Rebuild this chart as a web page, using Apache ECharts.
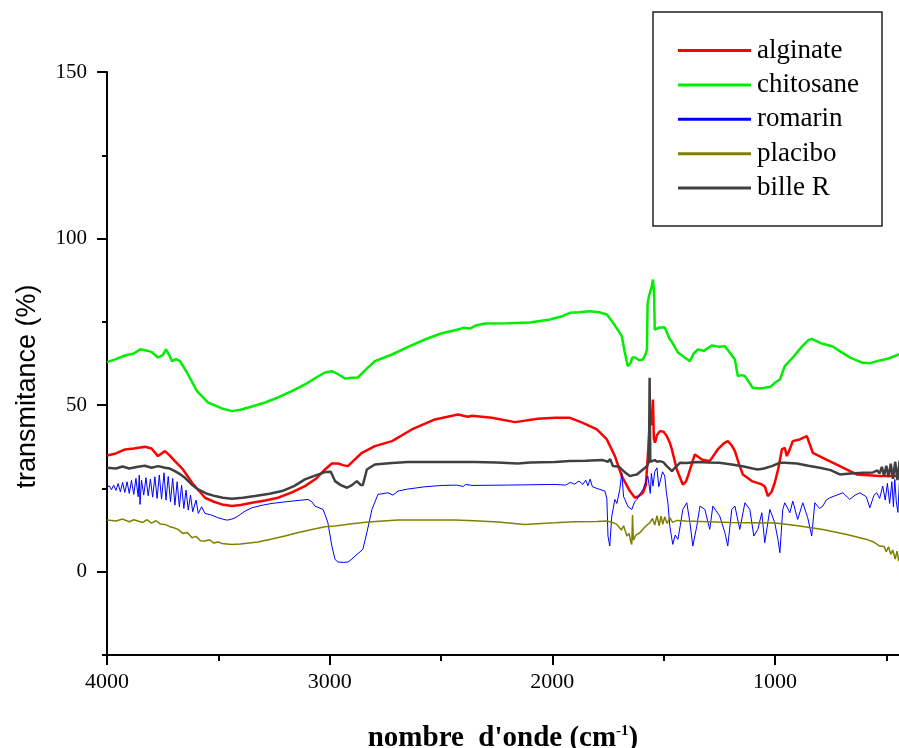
<!DOCTYPE html>
<html><head><meta charset="utf-8">
<script src="https://cdn.jsdelivr.net/npm/echarts@6/dist/echarts.min.js"></script>
<style>html,body{margin:0;padding:0;background:#fff}#c{width:899px;height:748px}</style>
</head><body><div id="c"></div><script>
const seriesNames = ['alginate', 'chitosane', 'romarin', 'placibo', 'bille R'];
const xMajorTicks = [1000, 2000, 3000, 4000];
const xMinorTicks = [500, 1500, 2500, 3500];
const yMajorTicks = [0, 50, 100, 150];
const yMinorTicks = [-25, 25, 75, 125];

const alginate = [[4000,34.9],[3960,35.5],[3919,36.7],[3880,37.0],[3829,37.5],[3800,37.0],[3771,34.7],[3755,35.5],[3740,36.2],[3720,35.0],[3695,33.2],[3659,30.7],[3618,26.7],[3560,22.2],[3520,21.0],[3484,20.2],[3439,19.7],[3400,20.0],[3349,20.7],[3290,21.4],[3232,22.2],[3170,23.8],[3111,25.7],[3060,28.0],[3021,30.7],[2990,32.5],[2963,32.5],[2940,32.0],[2918,31.7],[2890,33.5],[2855,35.7],[2797,37.7],[2720,39.2],[2631,42.7],[2527,45.7],[2424,47.2],[2380,46.5],[2361,46.8],[2271,46.2],[2168,44.9],[2065,45.9],[1988,46.2],[1921,46.2],[1863,44.7],[1800,42.7],[1755,39.7],[1719,34.7],[1688,28.7],[1652,24.2],[1629,22.2],[1610,22.8],[1593,23.7],[1580,26.0],[1575,30.7],[1568,38.0],[1562,45.7],[1555,44.0],[1548,51.7],[1544,40.0],[1539,38.7],[1530,41.0],[1517,42.2],[1500,42.0],[1486,40.7],[1472,38.7],[1463,36.7],[1441,30.7],[1414,26.2],[1400,27.0],[1391,28.7],[1360,35.2],[1345,34.5],[1329,33.7],[1293,33.2],[1257,36.7],[1230,38.5],[1212,39.2],[1195,38.0],[1180,36.2],[1160,32.0],[1144,29.2],[1104,27.2],[1059,26.2],[1045,25.5],[1032,22.7],[1015,24.0],[1001,26.7],[985,31.0],[969,36.7],[956,37.2],[947,34.7],[935,36.5],[920,39.2],[889,39.7],[857,40.7],[845,38.5],[830,35.7],[785,34.2],[709,31.7],[633,29.2],[529,28.7],[430,28.7]];

const chitosane = [[4000,62.9],[3960,63.8],[3919,64.9],[3880,65.5],[3850,66.8],[3829,66.5],[3800,66.0],[3771,64.3],[3750,65.0],[3735,66.7],[3720,65.0],[3708,63.2],[3690,63.8],[3672,63.2],[3641,59.8],[3596,54.2],[3547,50.8],[3484,49.0],[3439,48.2],[3400,48.6],[3349,49.6],[3290,50.8],[3232,52.3],[3170,54.2],[3111,56.2],[3060,58.3],[3021,59.8],[2990,60.2],[2960,59.2],[2931,58.0],[2900,58.2],[2873,58.3],[2840,60.5],[2797,63.2],[2720,65.2],[2650,67.4],[2572,69.7],[2500,71.5],[2424,72.7],[2400,73.2],[2370,73.0],[2340,74.0],[2300,74.5],[2200,74.6],[2100,74.8],[2011,75.7],[1960,76.6],[1921,77.7],[1880,77.9],[1831,78.2],[1790,77.9],[1755,77.2],[1728,74.8],[1700,72.0],[1688,70.7],[1675,66.0],[1661,61.7],[1650,62.5],[1640,64.3],[1629,64.3],[1610,63.5],[1593,63.7],[1580,65.5],[1575,66.7],[1572,80.5],[1566,82.7],[1553,85.7],[1548,87.7],[1543,84.0],[1540,72.7],[1530,73.0],[1517,73.3],[1495,73.3],[1472,69.7],[1463,69.0],[1436,65.8],[1410,64.5],[1382,63.2],[1365,65.5],[1346,66.7],[1320,66.3],[1284,67.9],[1250,67.5],[1225,67.7],[1200,65.5],[1180,63.7],[1167,58.7],[1150,59.0],[1135,58.7],[1100,55.2],[1070,55.0],[1046,55.2],[1020,55.5],[1001,56.7],[978,57.7],[956,61.7],[920,64.3],[880,67.5],[850,69.5],[835,69.9],[790,68.5],[740,67.6],[709,66.2],[660,64.2],[606,62.7],[570,62.6],[543,63.2],[490,64.0],[444,65.2],[430,65.5]];

const romarin = [[4000,25.2],[3990,25.8],[3980,24.6],[3970,26.0],[3960,24.4],[3950,26.5],[3940,24.0],[3930,26.8],[3920,23.8],[3910,27.0],[3900,23.5],[3890,27.4],[3880,23.2],[3870,28.0],[3860,22.5],[3855,29.0],[3852,20.2],[3845,27.5],[3835,23.0],[3825,28.2],[3815,22.8],[3805,27.8],[3795,22.4],[3785,28.5],[3775,22.0],[3765,29.0],[3755,21.8],[3744,29.7],[3735,21.5],[3725,28.6],[3715,21.0],[3705,28.0],[3695,20.0],[3685,27.0],[3675,19.5],[3665,26.0],[3655,19.0],[3645,24.5],[3635,18.5],[3625,23.0],[3615,18.0],[3600,21.5],[3590,17.5],[3575,19.5],[3560,17.5],[3530,17.0],[3502,16.2],[3470,15.6],[3457,15.5],[3430,16.0],[3412,16.7],[3380,18.2],[3349,19.2],[3300,20.0],[3259,20.5],[3169,21.2],[3097,21.7],[3080,21.0],[3066,19.7],[3030,18.7],[3021,17.2],[3008,14.7],[2990,7.7],[2976,3.7],[2963,2.9],[2940,2.8],[2918,2.9],[2900,3.8],[2886,4.7],[2851,6.7],[2833,11.7],[2810,18.7],[2783,23.2],[2738,23.7],[2716,23.0],[2693,24.2],[2650,24.8],[2572,25.5],[2496,25.9],[2430,26.0],[2400,25.6],[2390,26.2],[2361,25.9],[2200,26.0],[2100,26.1],[1988,26.2],[1940,26.0],[1920,26.8],[1900,26.3],[1880,27.2],[1863,26.2],[1850,27.5],[1840,25.8],[1830,27.8],[1820,25.5],[1800,25.0],[1786,24.7],[1764,24.2],[1755,22.0],[1750,10.7],[1742,7.7],[1733,16.7],[1719,21.7],[1710,20.5],[1697,24.7],[1688,29.7],[1680,22.5],[1674,21.7],[1660,19.5],[1643,18.7],[1630,21.0],[1620,21.7],[1605,23.5],[1593,24.7],[1580,27.0],[1571,28.7],[1560,23.5],[1555,29.5],[1548,25.7],[1540,30.0],[1530,31.2],[1522,25.5],[1517,26.7],[1505,30.0],[1495,28.7],[1488,24.0],[1481,20.7],[1472,13.5],[1459,8.2],[1448,11.0],[1436,9.7],[1425,14.0],[1414,18.7],[1396,20.7],[1382,14.7],[1369,7.7],[1351,13.7],[1337,19.7],[1315,18.7],[1293,12.7],[1279,19.7],[1248,16.7],[1225,11.7],[1212,7.7],[1194,18.7],[1180,19.7],[1158,12.7],[1135,20.7],[1113,18.7],[1095,10.7],[1077,12.7],[1059,17.7],[1046,8.7],[1023,18.7],[1001,14.7],[985,9.0],[978,5.7],[965,18.7],[956,20.7],[933,17.7],[920,21.2],[898,15.7],[875,20.7],[853,16.2],[835,10.7],[821,20.7],[800,19.0],[785,19.7],[770,21.5],[754,22.2],[730,22.8],[695,23.7],[664,21.7],[640,23.0],[619,23.7],[590,22.5],[574,19.2],[555,23.0],[543,23.7],[530,22.0],[516,25.7],[505,21.5],[495,26.5],[485,20.5],[475,27.0],[468,19.5],[462,27.7],[455,21.0],[448,17.8],[440,28.5],[432,20.0]];

const placibo = [[4000,15.5],[3960,15.2],[3930,15.8],[3900,15.0],[3880,15.6],[3861,15.2],[3840,14.8],[3820,15.6],[3800,14.6],[3780,15.3],[3760,14.3],[3740,14.2],[3720,13.6],[3700,13.2],[3681,12.7],[3660,11.5],[3640,11.8],[3618,10.2],[3600,10.6],[3580,9.3],[3560,9.2],[3540,9.6],[3520,8.6],[3500,8.9],[3484,8.5],[3439,8.2],[3400,8.3],[3322,8.9],[3260,9.8],[3201,10.7],[3140,11.8],[3080,12.7],[3021,13.5],[2976,13.7],[2900,14.4],[2828,14.9],[2693,15.5],[2437,15.5],[2350,15.3],[2244,14.9],[2123,14.2],[2050,14.5],[1988,14.7],[1900,15.0],[1800,15.1],[1755,15.2],[1730,14.8],[1710,14.2],[1690,12.5],[1680,13.8],[1665,10.7],[1655,11.5],[1648,9.0],[1643,8.2],[1640,17.0],[1636,9.5],[1625,11.0],[1607,11.7],[1590,13.0],[1575,14.0],[1562,14.7],[1550,16.0],[1540,14.0],[1530,16.8],[1520,13.8],[1512,16.7],[1504,14.2],[1495,16.5],[1485,14.5],[1472,16.2],[1460,14.8],[1440,15.4],[1400,15.2],[1300,15.0],[1200,14.8],[1100,14.7],[1000,14.6],[978,14.5],[889,13.7],[785,12.7],[677,11.2],[588,9.7],[560,9.0],[529,7.7],[510,7.6],[500,6.0],[490,7.5],[480,5.2],[471,6.5],[460,3.8],[452,6.2],[444,3.2],[436,5.5],[430,3.0]];

const billeR = [[4000,31.2],[3960,31.0],[3930,31.6],[3900,31.0],[3861,31.5],[3830,31.8],[3800,31.2],[3770,31.7],[3740,31.2],[3720,31.0],[3695,30.2],[3670,29.2],[3650,28.2],[3620,26.2],[3591,24.7],[3550,23.4],[3515,22.7],[3480,22.2],[3439,21.9],[3390,22.2],[3335,22.7],[3270,23.4],[3214,24.2],[3160,25.7],[3111,27.7],[3060,29.0],[3021,29.9],[2995,30.0],[2976,27.2],[2950,26.0],[2922,25.2],[2900,26.0],[2878,27.2],[2860,26.0],[2851,26.0],[2833,30.7],[2797,32.2],[2720,32.6],[2649,32.9],[2500,32.9],[2348,32.9],[2340,33.2],[2250,32.8],[2155,32.5],[2100,32.8],[1988,32.9],[1921,33.2],[1850,33.3],[1773,33.5],[1750,33.0],[1740,33.8],[1728,31.7],[1700,31.5],[1688,30.7],[1670,29.6],[1652,28.7],[1635,29.0],[1620,29.2],[1600,30.3],[1575,31.7],[1566,33.0],[1563,58.2],[1560,33.0],[1553,32.7],[1540,33.5],[1530,33.0],[1517,33.2],[1500,32.8],[1486,31.7],[1475,31.0],[1463,30.2],[1445,31.5],[1427,32.7],[1400,32.6],[1346,32.9],[1300,32.8],[1250,32.7],[1194,32.2],[1140,31.6],[1100,31.0],[1077,30.7],[1050,31.0],[1014,31.7],[978,32.7],[956,32.7],[902,32.5],[850,31.8],[799,31.2],[750,30.5],[709,29.2],[660,29.5],[606,29.7],[560,29.8],[540,30.4],[530,29.5],[520,31.5],[510,28.8],[500,31.8],[490,28.4],[480,32.4],[470,27.9],[460,33.0],[450,27.5],[440,33.4],[430,27.0]];

const seriesData = [alginate, chitosane, romarin, placibo, billeR];
const seriesColors = ['#ff0000', '#00ee00', '#0000ff', '#808000', '#404040'];
const seriesWidths = [2.5, 2.5, 1, 1.5, 2.5];

const serif = "'Liberation Serif', 'Times New Roman', serif";
const chart = echarts.init(document.getElementById('c'), null, {renderer: 'canvas'});
const plain = v => String(v);
const axisCommonX = {type: 'value', min: 443, max: 4000, inverse: true, position: 'bottom', splitLine: {show: false}};
const axisCommonY = {type: 'value', min: -25, max: 150, position: 'left', splitLine: {show: false}};
chart.setOption({
  animation: false,
  backgroundColor: '#fff',
  grid: {left: 107, right: 0, top: 72, bottom: 93, containLabel: false, outerBoundsMode: 'none'},
  legend: {
    orient: 'vertical', left: 678, top: 37, itemGap: 7.4, itemWidth: 73, itemHeight: 3, padding: 0,
    icon: 'rect',
    textStyle: {fontFamily: serif, fontSize: 27, color: '#000', padding: [0, 0, 0, 1]},
    data: seriesNames
  },
  graphic: [{type: 'rect', shape: {x: 653, y: 12, width: 229, height: 214}, style: {fill: null, stroke: '#222', lineWidth: 1.5}, z: 100}],
  xAxis: [
    Object.assign({}, axisCommonX, {
      axisLine: {onZero: false, lineStyle: {color: '#000', width: 2}},
      axisTick: {customValues: xMajorTicks, length: 10, lineStyle: {color: '#000', width: 2}},
      axisLabel: {customValues: xMajorTicks, formatter: plain, margin: 16, fontFamily: serif, fontSize: 22, color: '#000'},
      name: "nombre  d'onde (cm{sup|-1})", nameLocation: 'middle', nameGap: 69,
      nameTextStyle: {fontFamily: serif, fontWeight: 'bold', fontSize: 29, color: '#000',
        rich: {sup: {fontFamily: serif, fontWeight: 'bold', fontSize: 15, color: '#000', verticalAlign: 'top'}}}
    }),
    Object.assign({}, axisCommonX, {
      axisLine: {show: false, onZero: false},
      axisTick: {customValues: xMinorTicks, length: 6, lineStyle: {color: '#000', width: 2}},
      axisLabel: {show: false}
    })
  ],
  yAxis: [
    Object.assign({}, axisCommonY, {
      axisLine: {show: true, onZero: false, lineStyle: {color: '#000', width: 2}},
      axisTick: {show: true, customValues: yMajorTicks, length: 10, lineStyle: {color: '#000', width: 2}},
      axisLabel: {customValues: yMajorTicks, formatter: plain, margin: 20, fontFamily: serif, fontSize: 21, color: '#000'},
      name: 'transmitance (%)', nameLocation: 'middle', nameGap: 66,
      nameTextStyle: {fontFamily: "'Liberation Sans', Arial, sans-serif", fontSize: 27, color: '#000', padding: [0, 46, 0, 0]}
    }),
    Object.assign({}, axisCommonY, {
      axisLine: {show: false, onZero: false},
      axisTick: {show: true, customValues: yMinorTicks, length: 5, lineStyle: {color: '#000', width: 2}},
      axisLabel: {show: false}
    })
  ],
  series: seriesNames.map((n, i) => ({
    name: n, type: 'line', data: seriesData[i], xAxisIndex: 0, yAxisIndex: 0,
    showSymbol: false, symbol: 'none', color: seriesColors[i],
    lineStyle: {color: seriesColors[i], width: seriesWidths[i]}, z: 2 + i
  }))
});
</script></body></html>
